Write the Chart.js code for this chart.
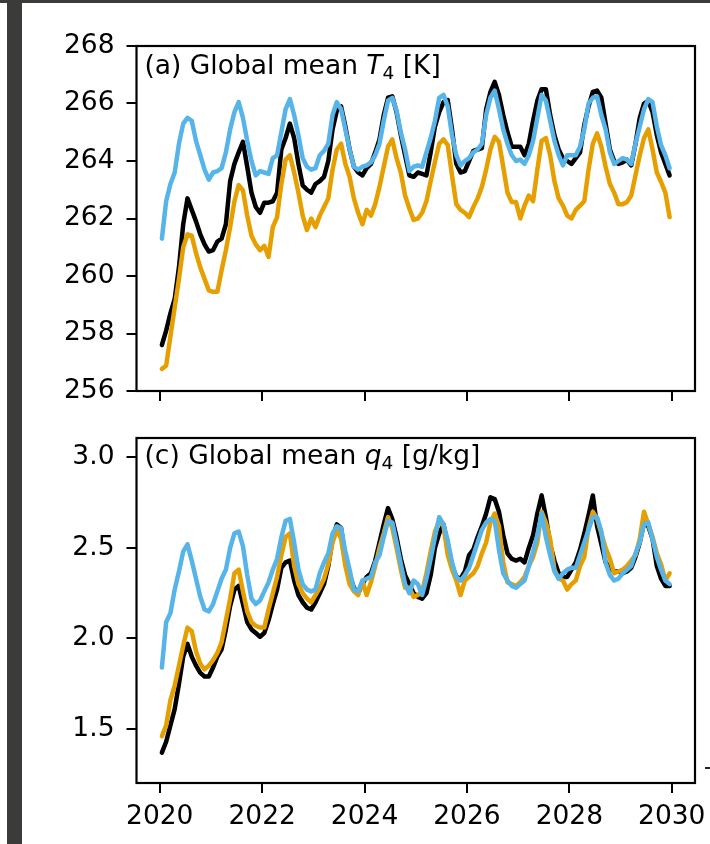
<!DOCTYPE html>
<html>
<head>
<meta charset="utf-8">
<script src="https://cdn.jsdelivr.net/npm/chart.js@4.4.1/dist/chart.umd.min.js"></script>
<style>
  html, body { margin: 0; padding: 0; background: #ffffff; }
  body { width: 710px; height: 844px; position: relative; overflow: hidden; }
  canvas { position: absolute; left: 0; }
  #c1 { top: 0; }
  #c2 { top: 420px; }
  .bar { position: absolute; background: #3b3b39; }
</style>
</head>
<body>
<canvas id="c1" width="710" height="420"></canvas>
<canvas id="c2" width="710" height="424"></canvas>
<div class="bar" style="left:0;top:0;width:710px;height:3px;"></div>
<div class="bar" style="left:7px;top:0;width:15px;height:844px;"></div>
<div class="bar" style="left:705px;top:767px;width:5px;height:2px;background:#222;"></div>
<script>
// ---------------- data ----------------
const startYear = 2020;          // monthly means, mid-month
const xTickYears = [2020, 2022, 2024, 2026, 2028, 2030];
const tTicks = [256, 258, 260, 262, 264, 266, 268];
const qTicks = [1.5, 2.0, 2.5, 3.0];

// (a) Global mean T4 [K]
const T_black = [
257.6,258.1,258.7,259.2,260.3,261.8,262.7,262.3,261.9,261.45,261.1,260.85,
260.9,261.2,261.3,261.8,263.3,263.9,264.3,264.67,263.8,262.9,262.4,262.2,
262.55,262.55,262.6,262.9,264.4,264.8,265.3,264.8,263.9,263.15,263.0,262.9,
263.2,263.3,263.45,264.0,265.1,265.75,265.9,265.2,264.4,263.8,263.6,263.5,
263.75,263.9,264.3,264.75,265.6,266.2,266.25,265.7,264.9,264.2,263.5,263.45,
263.6,263.55,263.5,264.3,265.2,265.7,266.05,266.12,265.1,263.9,263.6,263.65,
264.0,264.35,264.4,264.45,265.8,266.4,266.75,266.3,265.6,265.0,264.5,264.5,
264.5,264.2,264.6,265.4,266.1,266.5,266.5,265.6,264.9,264.4,264.1,264.0,
263.9,264.1,264.3,265.25,265.9,266.4,266.45,266.2,265.3,264.4,264.0,263.9,
263.95,264.05,263.85,264.6,265.5,266.0,266.1,265.7,264.9,264.3,263.9,263.5
];
const T_orange = [
256.77,256.88,257.9,258.9,259.9,261.0,261.45,261.4,260.8,260.3,259.9,259.5,
259.45,259.45,260.2,260.9,261.7,262.6,263.16,262.98,262.1,261.4,261.1,260.9,
261.05,260.66,261.7,262.05,263.2,264.05,264.2,263.6,262.9,262.1,261.6,262.0,
261.7,262.1,262.4,262.7,263.7,264.4,264.6,263.9,263.45,262.7,262.2,261.8,
262.3,262.1,262.5,263.1,263.8,264.5,264.75,264.1,263.6,262.8,262.35,261.95,
262.0,262.2,262.6,263.3,263.97,264.6,264.75,264.55,263.5,262.5,262.3,262.2,
262.05,262.4,262.7,263.1,263.7,264.4,264.84,264.67,263.8,262.9,262.57,262.57,
262.0,262.45,262.8,262.6,263.7,264.7,264.8,264.2,263.3,262.7,262.45,262.1,
262.0,262.3,262.45,262.6,263.7,264.6,264.96,264.5,263.8,263.2,262.9,262.5,
262.5,262.57,262.8,263.5,264.2,264.8,265.1,264.4,263.6,263.27,262.9,262.05
];
const T_blue = [
261.3,262.6,263.2,263.6,264.6,265.3,265.5,265.4,264.7,264.2,263.7,263.35,
263.6,263.65,263.75,264.3,265.1,265.7,266.05,265.5,264.7,264.0,263.5,263.65,
263.6,263.55,264.1,264.2,265.0,265.8,266.15,265.6,264.9,264.1,263.8,263.7,
263.75,264.2,264.35,264.6,265.6,266.05,265.8,265.1,264.4,263.8,263.7,263.8,
263.85,263.95,264.2,264.6,265.4,266.1,266.2,265.75,265.0,264.4,263.65,263.8,
263.85,263.8,264.3,264.8,265.4,266.2,266.3,265.9,264.9,264.2,263.85,264.0,
264.1,264.3,264.4,264.6,265.6,266.2,266.45,265.8,265.1,264.6,264.2,264.0,
264.05,263.9,264.2,264.7,265.5,266.3,266.1,265.4,264.7,264.2,263.85,264.2,
264.2,264.2,264.5,265.1,266.0,266.2,266.25,265.6,265.1,264.3,263.9,264.0,
264.1,264.05,263.9,264.6,265.2,265.8,266.15,266.05,265.2,264.55,264.2,263.75
];

// (c) Global mean q4 [g/kg]
const Q_black = [
1.37,1.43,1.52,1.61,1.75,1.90,1.97,1.90,1.85,1.81,1.79,1.79,
1.84,1.90,1.94,2.05,2.18,2.27,2.29,2.19,2.09,2.05,2.03,2.01,
2.03,2.10,2.19,2.27,2.39,2.42,2.43,2.32,2.24,2.20,2.17,2.16,
2.20,2.25,2.30,2.40,2.55,2.63,2.61,2.45,2.35,2.28,2.25,2.30,
2.34,2.36,2.43,2.53,2.63,2.72,2.66,2.56,2.44,2.35,2.30,2.25,
2.23,2.22,2.25,2.35,2.50,2.58,2.63,2.52,2.40,2.34,2.33,2.37,
2.46,2.49,2.56,2.62,2.69,2.78,2.77,2.70,2.57,2.47,2.44,2.43,
2.44,2.42,2.50,2.57,2.69,2.79,2.67,2.52,2.43,2.36,2.34,2.34,
2.38,2.42,2.49,2.58,2.68,2.79,2.62,2.52,2.42,2.39,2.37,2.37,
2.36,2.37,2.39,2.45,2.53,2.64,2.62,2.55,2.40,2.33,2.29,2.29
];
const Q_orange = [
1.46,1.52,1.66,1.74,1.85,1.96,2.06,2.04,1.93,1.86,1.83,1.85,
1.88,1.92,1.98,2.10,2.22,2.36,2.38,2.26,2.15,2.09,2.07,2.06,
2.06,2.16,2.25,2.34,2.46,2.56,2.58,2.40,2.30,2.25,2.22,2.20,
2.24,2.28,2.33,2.41,2.53,2.60,2.55,2.40,2.30,2.26,2.24,2.32,
2.24,2.31,2.40,2.50,2.58,2.67,2.61,2.50,2.38,2.28,2.28,2.23,
2.24,2.26,2.36,2.48,2.59,2.65,2.62,2.46,2.38,2.32,2.24,2.32,
2.34,2.36,2.40,2.47,2.53,2.64,2.69,2.62,2.42,2.31,2.30,2.29,
2.31,2.34,2.40,2.45,2.53,2.70,2.64,2.55,2.38,2.33,2.32,2.27,
2.30,2.32,2.40,2.45,2.61,2.70,2.66,2.58,2.50,2.44,2.36,2.37,
2.38,2.40,2.43,2.46,2.55,2.70,2.63,2.56,2.47,2.41,2.32,2.36
];
const Q_blue = [
1.84,2.09,2.14,2.27,2.37,2.48,2.52,2.43,2.33,2.23,2.16,2.15,
2.19,2.26,2.33,2.38,2.50,2.58,2.59,2.51,2.35,2.22,2.19,2.21,
2.26,2.31,2.38,2.44,2.56,2.65,2.66,2.53,2.38,2.30,2.27,2.26,
2.27,2.36,2.42,2.47,2.58,2.62,2.61,2.48,2.38,2.27,2.26,2.32,
2.33,2.34,2.42,2.46,2.56,2.65,2.64,2.53,2.41,2.30,2.25,2.32,
2.30,2.24,2.33,2.44,2.56,2.67,2.63,2.54,2.42,2.34,2.32,2.35,
2.39,2.46,2.53,2.60,2.64,2.66,2.65,2.49,2.36,2.32,2.29,2.28,
2.30,2.32,2.40,2.48,2.57,2.69,2.56,2.46,2.37,2.33,2.36,2.38,
2.39,2.39,2.46,2.53,2.60,2.67,2.67,2.59,2.42,2.35,2.32,2.33,
2.36,2.38,2.40,2.47,2.53,2.63,2.64,2.55,2.45,2.38,2.32,2.30
];

// ---------------- chart setup ----------------
const FONT = '"DejaVu Sans", sans-serif';
const FS = 26.5;
const COLORS = { black: '#000000', orange: '#E69F00', blue: '#56B4E9' };
const dates = T_black.map((_, i) => startYear + (i + 0.5) / 12);
const xMin = 2019.546, xMax = 2030.454;

function pts(arr) { return arr.map((v, i) => ({ x: dates[i], y: v })); }

function ds(arr, color, order) {
  return { data: pts(arr), borderColor: color, backgroundColor: color, borderWidth: 4.5,
           pointRadius: 0, tension: 0, fill: false, order: order,
           borderJoinStyle: 'round', borderCapStyle: 'round' };
}

const framePlugin = {
  id: 'frameTitle',
  afterDraw(chart, args, opts) {
    const { ctx, chartArea: a } = chart;
    ctx.save();
    ctx.strokeStyle = '#000';
    ctx.lineWidth = 2.2;
    ctx.strokeRect(a.left, a.top, a.right - a.left, a.bottom - a.top);
    // title with italic symbol and subscript
    let x = a.left + opts.dx;
    const y = a.top + opts.dy;
    ctx.fillStyle = '#000';
    ctx.textBaseline = 'alphabetic';
    ctx.textAlign = 'left';
    for (const p of opts.parts) {
      let font = opts.size + 'px ' + FONT;
      let yy = y;
      if (p.style === 'italic') font = 'italic ' + opts.size + 'px ' + FONT;
      if (p.style === 'sub') { font = (opts.size * 0.7).toFixed(1) + 'px ' + FONT; yy = y + opts.size * 0.2; }
      ctx.font = font;
      ctx.fillText(p.text, x, yy);
      x += ctx.measureText(p.text).width;
    }
    ctx.restore();
  }
};

function makeChart(id, series, yMin, yMax, yTicks, yFmt, showX, padTop, xHeight, titleDy, titleParts) {
  return new Chart(document.getElementById(id), {
    type: 'line',
    data: { datasets: [ds(series[0], COLORS.black, 3), ds(series[1], COLORS.orange, 2), ds(series[2], COLORS.blue, 1)] },
    plugins: [framePlugin],
    options: {
      responsive: false, animation: false, devicePixelRatio: 1,
      layout: { padding: { left: 0, right: 15, top: padTop, bottom: 0 } },
      plugins: { legend: { display: false }, tooltip: { enabled: false },
        frameTitle: { parts: titleParts, size: FS, dx: 8, dy: titleDy } },
      scales: {
        x: {
          type: 'linear', min: xMin, max: xMax,
          afterBuildTicks: s => { s.ticks = xTickYears.map(v => ({ value: v })); },
          afterFit: s => { s.height = xHeight; s.paddingLeft = 0; s.paddingRight = 0; },
          grid: { drawOnChartArea: false, drawTicks: true, tickLength: 10, color: '#000', lineWidth: 2 },
          border: { display: false },
          ticks: { display: showX, autoSkip: false, maxRotation: 0, padding: 8, color: '#000',
                   font: { family: FONT, size: FS }, callback: v => String(v) }
        },
        y: {
          type: 'linear', min: yMin, max: yMax,
          afterBuildTicks: s => { s.ticks = yTicks.map(v => ({ value: v })); },
          afterFit: s => { s.width = 136.5; s.paddingTop = 0; s.paddingBottom = 0; },
          grid: { drawOnChartArea: false, drawTicks: true, tickLength: 10, color: '#000', lineWidth: 2 },
          border: { display: false },
          ticks: { autoSkip: false, padding: 12, color: '#000',
                   font: { family: FONT, size: FS }, callback: yFmt }
        }
      }
    }
  });
}

makeChart('c1', [T_black, T_orange, T_blue], 256, 268, tTicks, v => String(v), false, 46, 29, 28,
  [{ text: '(a) Global mean ' }, { text: 'T', style: 'italic' }, { text: '4', style: 'sub' }, { text: ' [K]' }]);
makeChart('c2', [Q_black, Q_orange, Q_blue], 1.202, 3.107, qTicks, v => v.toFixed(1), true, 18, 61, 26,
  [{ text: '(c) Global mean ' }, { text: 'q', style: 'italic' }, { text: '4', style: 'sub' }, { text: ' [g/kg]' }]);
</script>
</body>
</html>
